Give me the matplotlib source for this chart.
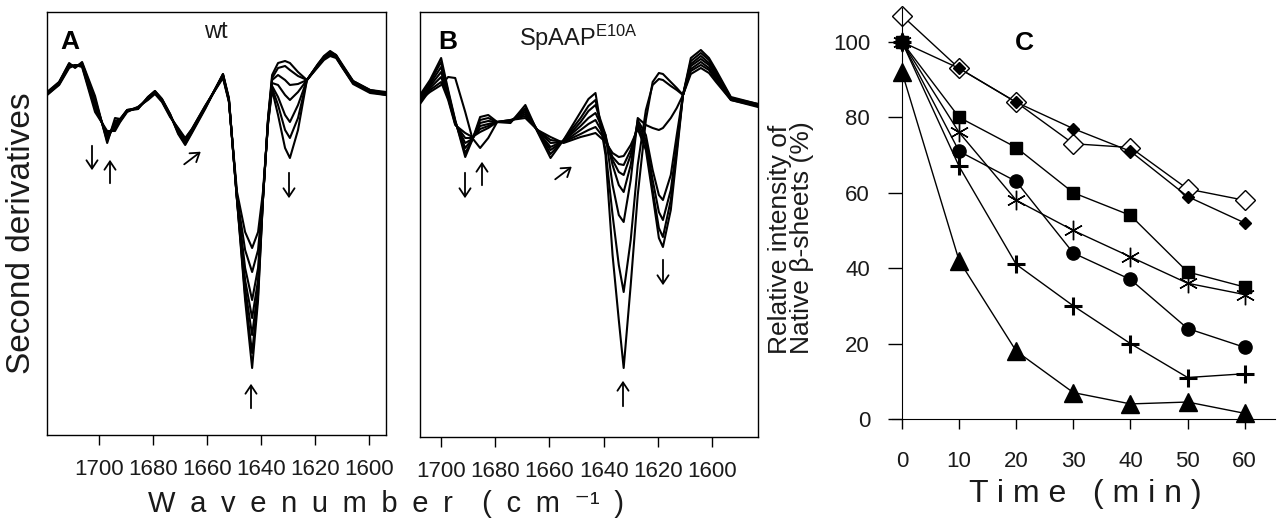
import matplotlib
matplotlib.use("Agg")
import matplotlib.pyplot as plt
from matplotlib.patches import FancyArrowPatch

# ---------------- data ----------------
# panel A (wt): second-derivative spectra, arbitrary units
wn_a = [1719.3, 1714.8, 1711.1, 1708.9, 1706.3, 1701.5, 1697.0, 1694.1, 1692.2, 1689.6,
        1685.6, 1681.9, 1679.3, 1676.7, 1673.7, 1670.7, 1668.1, 1665.6, 1660.7, 1654.1,
        1651.9, 1648.9, 1645.9, 1643.3, 1641.1, 1639.3, 1637.4, 1635.9, 1633.7, 1631.1,
        1629.3, 1626.3, 1623.0, 1618.9, 1616.7, 1614.4, 1612.2, 1610.0, 1605.9, 1599.6, 1593.7]
spec_a0 = [0.1, 1.1, 3.0, 2.5, 3.1, -0.3, -5.0, -2.5, -2.6, -1.7, -1.6, -0.4, 0.2, -0.6, -2.1, -4.1, -5.2,
           -4.0, -1.6, 1.9, -0.5, -10.7, -20.7, -27.5, -20.7, -10.7, -2.5, 1.8, 3.0, 3.2, 3.0, 2.1, 1.3,
           2.9, 3.7, 4.2, 3.8, 2.9, 1.2, 0.3, 0.1]
spec_a1 = [0.0, 1.1, 2.9, 2.6, 3.0, -0.6, -4.8, -2.8, -2.6, -1.7, -1.6, -0.4, 0.2, -0.6, -2.1, -4.0, -5.1,
           -3.9, -1.5, 1.9, -0.6, -10.7, -20.2, -26.0, -20.2, -10.7, -2.6, 1.5, 2.5, 2.7, 2.3, 1.7, 1.3,
           2.9, 3.6, 4.1, 3.8, 2.8, 1.2, 0.3, 0.0]
spec_a2 = [0.0, 1.0, 2.9, 2.6, 2.9, -0.8, -4.6, -3.0, -2.7, -1.7, -1.5, -0.5, 0.1, -0.7, -2.2, -3.9, -5.0,
           -3.8, -1.5, 1.8, -0.7, -10.7, -19.5, -24.2, -19.5, -10.7, -2.7, 1.3, 1.8, 1.3, 0.8, 0.9, 1.3,
           2.8, 3.6, 4.1, 3.7, 2.8, 1.1, 0.2, 0.0]
spec_a3 = [-0.1, 1.0, 2.8, 2.7, 2.9, -1.1, -4.4, -3.2, -2.7, -1.8, -1.5, -0.5, 0.1, -0.7, -2.2, -3.8, -4.8,
           -3.7, -1.4, 1.8, -0.7, -10.6, -18.7, -22.5, -18.7, -10.6, -2.8, 1.0, 0.8, -0.2, -0.7, 0.1, 1.3,
           2.8, 3.5, 4.0, 3.7, 2.7, 1.1, 0.2, -0.1]
spec_a4 = [-0.1, 0.9, 2.7, 2.7, 2.8, -1.3, -4.2, -3.4, -2.8, -1.8, -1.5, -0.6, 0.0, -0.8, -2.3, -3.7, -4.7,
           -3.7, -1.4, 1.7, -0.8, -10.5, -17.5, -20.7, -17.5, -10.5, -2.9, 0.7, -0.4, -2.2, -2.9, -1.2, 1.3,
           2.7, 3.5, 3.9, 3.6, 2.7, 1.0, 0.1, -0.1]
spec_a5 = [-0.2, 0.9, 2.6, 2.8, 2.7, -1.6, -4.0, -3.6, -2.8, -1.8, -1.4, -0.6, 0.0, -0.8, -2.3, -3.6, -4.6,
           -3.6, -1.3, 1.6, -0.8, -10.3, -15.7, -17.9, -15.7, -10.3, -3.0, 0.5, -1.2, -3.7, -4.5, -2.5, 1.3,
           2.7, 3.4, 3.8, 3.6, 2.6, 1.0, 0.1, -0.2]
spec_a6 = [-0.2, 0.8, 2.5, 2.8, 2.6, -1.9, -3.8, -3.8, -2.9, -1.9, -1.4, -0.7, -0.1, -0.9, -2.4, -3.5, -4.5,
           -3.6, -1.3, 1.5, -0.9, -9.9, -13.9, -15.5, -13.9, -9.9, -3.1, 0.3, -2.2, -5.5, -6.5, -3.7, 1.3,
           2.6, 3.3, 3.7, 3.5, 2.6, 0.9, 0.0, -0.2]

# panel B (SpAAP E10A)
wn_b = [1707.8, 1704.1, 1700.0, 1697.4, 1694.8, 1691.1, 1688.5, 1685.6, 1682.6, 1679.3,
        1674.4, 1668.9, 1664.4, 1659.6, 1654.8, 1648.5, 1645.6, 1643.0, 1639.3, 1636.7,
        1634.4, 1632.6, 1630.0, 1627.4, 1624.4, 1621.9, 1619.6, 1618.1, 1615.2, 1613.0,
        1610.7, 1607.8, 1604.1, 1601.1, 1598.5, 1593.0, 1583.0]
spec_b0 = [0.0, 0.8, 1.5, 2.3, 2.2, -1.2, -3.8, -4.8, -3.8, -2.2, -2.3, -0.5, -3.2, -5.8, -4.0, -1.2, 0.1,
           0.7, -5.5, -15.5, -22.0, -26.8, -18.5, -9.5, -2.0, 1.8, 2.7, 2.6, 1.8, 1.2, 0.5, 4.2, 5.0, 4.2,
           3.0, 0.3, -0.4]
spec_b1 = [-0.4, 1.0, 1.8, 0.0, -2.5, -3.3, -3.7, -3.2, -2.8, -2.2, -2.2, -0.8, -3.1, -5.4, -4.0, -1.8, -0.6,
           0.0, -5.0, -11.5, -16.5, -19.2, -14.0, -6.5, -1.0, 1.5, 2.1, 2.0, 1.4, 1.0, 0.5, 3.9, 4.7, 4.0,
           2.8, 0.2, -0.4]
spec_b2 = [-0.3, 1.2, 2.3, 0.2, -2.4, -3.8, -3.8, -2.9, -2.6, -2.2, -2.2, -1.0, -3.1, -5.0, -4.1, -2.2, -1.1,
           -0.5, -3.5, -8.5, -11.5, -12.2, -8.0, -1.8, -2.5, -2.8, -3.0, -2.8, -1.8, -0.8, 0.5, 3.6, 4.4, 3.7,
           2.6, 0.2, -0.5]
spec_b3 = [-0.1, 1.4, 2.8, 0.4, -2.3, -4.3, -3.9, -2.6, -2.4, -2.2, -2.1, -1.2, -3.1, -4.7, -4.1, -2.6, -1.8,
           -1.3, -3.5, -6.5, -8.5, -9.2, -6.5, -2.0, -3.5, -7.0, -9.5, -10.0, -7.5, -3.5, 0.5, 3.4, 4.1, 3.5,
           2.4, 0.1, -0.5]
spec_b4 = [0.1, 1.6, 3.3, 0.6, -2.2, -4.8, -3.9, -2.3, -2.1, -2.2, -2.1, -1.4, -3.0, -4.3, -4.2, -3.0, -2.4,
           -2.0, -3.8, -6.0, -7.2, -7.5, -5.5, -2.3, -4.0, -8.0, -11.2, -12.0, -9.0, -4.5, 0.5, 3.1, 3.8, 3.2,
           2.2, 0.1, -0.6]
spec_b5 = [0.3, 1.8, 3.8, 0.8, -2.1, -5.3, -4.0, -2.0, -1.8, -2.2, -2.0, -1.6, -3.0, -4.0, -4.2, -3.4, -3.0,
           -2.7, -4.0, -5.7, -6.4, -6.5, -5.0, -2.6, -4.5, -9.0, -12.8, -13.7, -10.0, -5.0, 0.5, 2.9, 3.5, 3.0,
           2.0, 0.0, -0.6]
spec_b6 = [0.5, 2.0, 4.2, 1.0, -2.0, -5.7, -4.0, -1.7, -1.5, -2.2, -2.0, -1.8, -3.0, -3.7, -4.3, -3.7, -3.5,
           -3.3, -4.2, -5.3, -5.7, -5.6, -4.5, -2.9, -5.0, -9.5, -13.8, -14.7, -11.0, -5.5, 0.5, 2.6, 3.2, 2.7,
           1.8, 0.0, -0.7]

wn_ticks = [1700, 1680, 1660, 1640, 1620, 1600]

# panel C: relative intensity of native beta-sheets (%)
time_min = [0, 10, 20, 30, 40, 50, 60]
open_diamond = [107, 93, 84, 73, 72, 61, 58]
filled_diamond = [100, 93, 84, 77, 71, 59, 52]
squares = [100, 80, 72, 60, 54, 39, 35]
stars = [100, 76, 58, 50, 43, 36, 33]
circles = [100, 71, 63, 44, 37, 24, 19]
pluses = [100, 67, 41, 30, 20, 11, 12]
triangles = [92, 42, 18, 7, 4, 4.5, 1.5]

# ---------------- style ----------------
plt.rcParams['font.family'] = ['Liberation Sans', 'DejaVu Sans']
plt.rcParams['mathtext.default'] = 'regular'
INK = '#1a1a1a'

W, H = 1280, 521
fig = plt.figure(figsize=(W / 100, H / 100), dpi=100)


def box(l, t, r, b):
    # pixel box (top-left origin) -> figure fraction rect
    return [l / W, 1 - b / H, (r - l) / W, (b - t) / H]


def arrow(x0, y0, x1, y1):
    fig.add_artist(FancyArrowPatch(
        (x0 / W, 1 - y0 / H), (x1 / W, 1 - y1 / H), transform=fig.transFigure,
        arrowstyle='->,head_length=6,head_width=4', lw=1.3, color='black'))


def spectra_axes(rect, wn, curves, xlim, ylim):
    ax = fig.add_axes(rect)
    for c in curves:
        ax.plot(wn, c, color='black', lw=1.5, solid_joinstyle='round')
    ax.set_xlim(*xlim)
    ax.set_ylim(*ylim)
    ax.set_yticks([])
    ax.set_xticks(wn_ticks)
    ax.set_xticklabels([str(t) for t in wn_ticks], fontsize=16, color=INK)
    ax.tick_params(axis='x', direction='out', length=7, width=1, pad=10)
    for s in ax.spines.values():
        s.set_linewidth(1)
    return ax


ax_a = spectra_axes(box(47, 12, 386, 435), wn_a,
                    [spec_a0, spec_a1, spec_a2, spec_a3, spec_a4, spec_a5, spec_a6],
                    (1719.3, 1593.7), (-34.2, 8.1))
ax_b = spectra_axes(box(420, 12, 758, 437), wn_b,
                    [spec_b0, spec_b1, spec_b2, spec_b3, spec_b4, spec_b5, spec_b6],
                    (1707.8, 1583.0), (-33.7, 8.8))

fig.text(70 / W, 1 - 42 / H, 'A', ha='center', va='center', fontsize=19, fontweight='bold')
fig.text(216 / W, 1 - 32 / H, 'wt', ha='center', va='center', fontsize=17, color=INK)
fig.text(448 / W, 1 - 42 / H, 'B', ha='center', va='center', fontsize=19, fontweight='bold')
fig.text(519 / W, 1 - 38 / H, 'SpAAP$^{E10A}$', ha='left', va='center', fontsize=17, color=INK)

# arrows marking band changes
arrow(92, 143, 92, 173)
arrow(110, 186, 110, 157)
arrow(182, 166, 203, 150)
arrow(289, 170, 289, 201)
arrow(251, 411, 251, 381)
arrow(465, 170, 465, 201)
arrow(482, 188, 482, 159)
arrow(553, 181, 574, 165)
arrow(663, 257, 663, 288)
arrow(623, 409, 623, 378)

sp = '\u2002'
wn_label = sp.join('Wavenumber') + sp * 2 + sp.join(['(', 'c', 'm', '\u207b\u00b9', ')'])
fig.text(22 / W, 1 - 233 / H, 'Second derivatives', rotation=90, ha='center', va='center',
         fontsize=24, color=INK)
fig.text(386 / W, 1 - 504 / H, wn_label, ha='center', va='center', fontsize=21, color=INK)

# ---------------- panel C ----------------
ax_c = fig.add_axes(box(892, 8, 1275, 419))
mk = dict(color='black', lw=1, markeredgecolor='black', clip_on=False)
ax_c.plot(time_min, open_diamond, marker='D', ms=10, markerfacecolor='white', mew=1, **mk)
ax_c.plot(time_min, filled_diamond, marker='D', ms=6.5, markerfacecolor='black', **mk)
ax_c.plot(time_min, squares, marker='s', ms=9, markerfacecolor='black', **mk)
ax_c.plot(time_min, stars, marker=(6, 2, 0), ms=14, mew=1, **mk)
ax_c.plot(time_min, circles, marker='o', ms=9.5, markerfacecolor='black', **mk)
ax_c.plot(time_min, pluses, marker='+', ms=13, mew=2.2, **mk)
ax_c.plot(time_min, triangles, marker='^', ms=12.5, markerfacecolor='black', **mk)
ax_c.set_xlim(-1.75, 65.3)
ax_c.set_ylim(0, 109)
ax_c.spines['top'].set_visible(False)
ax_c.spines['right'].set_visible(False)
ax_c.spines['left'].set_position(('data', 0))
ax_c.set_xticks(time_min)
ax_c.set_yticks([0, 20, 40, 60, 80, 100])
ax_c.tick_params(direction='out', width=1, labelsize=16, labelcolor=INK)
ax_c.tick_params(axis='x', length=7, pad=16)
ax_c.tick_params(axis='y', length=10, pad=13)

fig.text(1024 / W, 1 - 43 / H, 'C', ha='center', va='center', fontsize=19, fontweight='bold')
fig.text(1085 / W, 1 - 494 / H, 'T i m e   ( m i n )', ha='center', va='center',
         fontsize=23, color=INK)
fig.text(791 / W, 1 - 354 / H, 'Relative intensity of\nNative β-sheets (%)', rotation=90,
         ha='center', va='bottom', multialignment='left', fontsize=19, linespacing=0.9,
         color=INK)

fig.savefig('out.png', dpi=100)
